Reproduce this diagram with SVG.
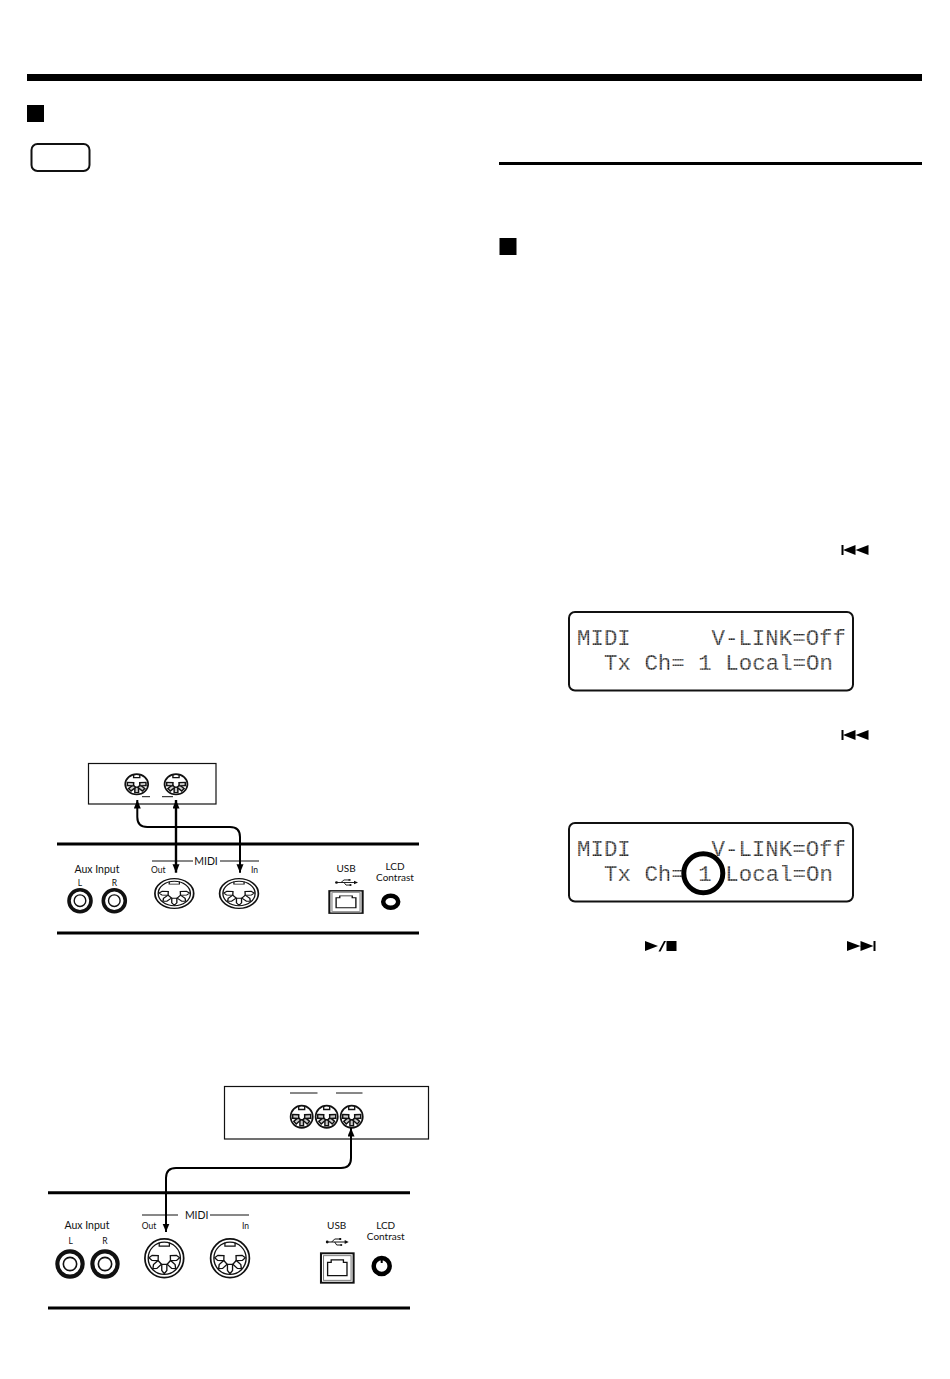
<svg xmlns="http://www.w3.org/2000/svg" width="950" height="1379" viewBox="0 0 950 1379">
<style>
.t{font-family:Lato,"Liberation Sans",sans-serif;fill:#111;font-size:10.5px}
.c{font-size:10px}
.s{font-size:8.5px}
.m{text-anchor:middle}
.e{text-anchor:end}
.lcd{font-family:"Liberation Mono",monospace;font-size:22.4px;fill:url(#dots);white-space:pre}
.scr{fill:#fff;stroke:#111;stroke-width:2}
.rule{stroke:#000;stroke-width:3;fill:none}
.thin{stroke:#111;stroke-width:1;fill:none}
.box{fill:#fff;stroke:#111;stroke-width:1.2}
.wire{fill:none;stroke:#000;stroke-width:2}
</style>
<defs>
<pattern id="dots" patternUnits="userSpaceOnUse" width="1.7" height="1.7"><rect width="1.4" height="1.4" fill="#111"/></pattern>
<marker id="arr" markerUnits="userSpaceOnUse" markerWidth="10" markerHeight="8" refX="8.5" refY="3.5" orient="auto-start-reverse"><path d="M0 0L8.500 3.500L0 7Z" fill="#000"/></marker>
<g id="din">
<circle r="19" fill="#fff" stroke="#111" stroke-width="1.7"/>
<circle r="15.8" fill="none" stroke="#111" stroke-width="1.300"/>
<path d="M-5 -15.500V-12H5V-15.500" fill="none" stroke="#111" stroke-width="1.200"/>
<g fill="#fff" stroke="#111" stroke-width="1.300">
<path d="M-2.500 6H2.500V12L0 15L-2.500 12Z"/>
<path d="M-2.500 6H2.500V12L0 15L-2.500 12Z" transform="rotate(48)"/>
<path d="M-2.500 6H2.500V12L0 15L-2.500 12Z" transform="rotate(-48)"/>
<path d="M-2.500 6H2.500V12L0 15L-2.500 12Z" transform="rotate(92)"/>
<path d="M-2.500 6H2.500V12L0 15L-2.500 12Z" transform="rotate(-92)"/>
</g>
</g>
<g id="dins">
<circle r="18.500" fill="#fff" stroke="#111" stroke-width="2.800"/>
<path d="M-5 -17V-12H5V-17" fill="none" stroke="#111" stroke-width="2.200"/>
<g fill="#ccc" stroke="#111" stroke-width="2.400">
<path d="M-3 5H3V15H-3Z"/>
<path d="M-3 5H3V15H-3Z" transform="rotate(48)"/>
<path d="M-3 5H3V15H-3Z" transform="rotate(-48)"/>
<path d="M-3 5H3V15H-3Z" transform="rotate(92)"/>
<path d="M-3 5H3V15H-3Z" transform="rotate(-92)"/>
</g>
</g>
<g id="jack">
<circle r="11" fill="#fff" stroke="#111" stroke-width="3.600"/>
<circle r="5.800" fill="#fff" stroke="#111" stroke-width="1.400"/>
</g>
<g id="usbp">
<rect x="-16" y="-15.500" width="32" height="31" fill="#fff" stroke="#111" stroke-width="2"/>
<rect x="-13.500" y="-13" width="27" height="26" fill="#fff" stroke="#777" stroke-width="1"/>
<path d="M-9.500 -6H-6V-8.500H6V-6H9.500V8H-9.500Z" fill="#fff" stroke="#111" stroke-width="1.300"/>
</g>
<g id="usbi">
<path d="M-9 0H9M-5 0L-2 -3H3M-2 0L0 3H4" fill="none" stroke="#111" stroke-width="1"/>
<path d="M8 -2L12 0L8 2Z" fill="#111"/>
<circle cx="-9.500" r="1.400" fill="#111"/>
<rect x="2.500" y="-4" width="2" height="2" fill="#111"/>
<circle cx="4.500" cy="3" r="1.100" fill="#111"/>
</g>
</defs>

<rect id="top-bar" x="27" y="74" width="895" height="7" fill="#000"/>
<rect id="bullet-1" x="27" y="105" width="17" height="17" fill="#000"/>
<rect id="note-box" x="31.500" y="144" width="58" height="27" rx="6" fill="#fff" stroke="#111" stroke-width="2"/>
<rect id="right-rule" x="499" y="162" width="423" height="3" fill="#000"/>
<rect id="bullet-2" x="499.500" y="238" width="17" height="17" fill="#000"/>

<g id="rew-1" fill="#000"><rect x="841.500" y="545" width="2" height="10"/><path d="M843 550L855.500 545V555Z M855.500 550L868.500 545V555Z"/></g>

<g id="lcd-1">
<rect class="scr" x="569" y="612" width="284" height="78.500" rx="6"/>
<text class="lcd" x="577" y="645" textLength="269" lengthAdjust="spacing" xml:space="preserve">MIDI      V-LINK=Off</text>
<text class="lcd" x="577" y="670" xml:space="preserve" textLength="256" lengthAdjust="spacing">  Tx Ch= 1 Local=On</text>
</g>

<g id="rew-2" fill="#000"><rect x="841.500" y="730" width="2" height="10"/><path d="M843 735L855.500 730V740Z M855.500 735L868.500 730V740Z"/></g>

<g id="lcd-2">
<rect class="scr" x="569" y="823" width="284" height="78.500" rx="6"/>
<text class="lcd" x="577" y="856" textLength="269" lengthAdjust="spacing" xml:space="preserve">MIDI      V-LINK=Off</text>
<text class="lcd" x="577" y="881" xml:space="preserve" textLength="256" lengthAdjust="spacing">  Tx Ch= 1 Local=On</text>
<circle cx="703.300" cy="873.300" r="19.500" fill="none" stroke="#000" stroke-width="5"/>
</g>

<g id="play-stop" fill="#000"><path d="M645 941L658 946L645 951Z"/><path d="M658.500 951.500L664 941H666L660.500 951.500Z"/><rect x="666.500" y="941" width="10" height="10"/></g>
<g id="ffw" fill="#000"><path d="M847 941L860.500 946L847 951Z M860.500 941L873.500 946L860.500 951Z"/><rect x="873.500" y="941" width="2" height="10"/></g>

<g id="device-1">
<rect class="box" x="88.500" y="763.500" width="127.500" height="40.500"/>
<use href="#dins" transform="translate(136.700 784.300) scale(.62 .55)"/>
<use href="#dins" transform="translate(176 784.300) scale(.62 .55)"/>
<path class="thin" d="M142 796.700H150M162 796.700H173"/>
</g>

<g id="panel-1">
<path class="rule" d="M57 844H419M57 933H419"/>
<path class="thin" d="M152 861H193M220 861H259"/>
<text class="t m" x="206" y="865">MIDI</text>
<text class="t s" x="151" y="873">Out</text>
<text class="t s e" x="258" y="873">In</text>
<text class="t m" x="97" y="873">Aux Input</text>
<text class="t s m" x="80" y="886">L</text>
<text class="t s m" x="114.300" y="886">R</text>
<use href="#jack" transform="translate(80 900.700) scale(1 1)"/>
<use href="#jack" transform="translate(114.300 900.700) scale(1 1)"/>
<use href="#din" transform="translate(174.300 893.500) scale(1.020 .78)"/>
<use href="#din" transform="translate(239 893.500) scale(1.020 .78)"/>
<text class="t c m" x="346" y="872">USB</text>
<use href="#usbi" transform="translate(346 882.500) scale(1 .85)"/>
<use href="#usbp" transform="translate(346 902) scale(1.040 .72)"/>
<text class="t c m" x="395" y="870">LCD</text>
<text class="t c m" x="395" y="880.500">Contrast</text>
<ellipse cx="390.700" cy="901.700" rx="7.500" ry="6" fill="#fff" stroke="#000" stroke-width="4.500"/>
</g>

<g id="device-2">
<rect class="box" x="224.500" y="1086.500" width="204" height="52.500"/>
<path class="thin" d="M290 1093H317.500M336 1093H362.500"/>
<use href="#dins" transform="translate(301.700 1116.700) scale(.6)"/>
<use href="#dins" transform="translate(326.700 1116.700) scale(.6)"/>
<use href="#dins" transform="translate(351.700 1116.700) scale(.6)"/>
</g>

<g id="panel-2">
<path class="rule" d="M48 1192.700H410M48 1308H410"/>
<path class="thin" d="M142 1215H178M210 1215H249"/>
<text class="t m" x="196.700" y="1219">MIDI</text>
<text class="t s" x="141.700" y="1229">Out</text>
<text class="t s e" x="249" y="1229">In</text>
<text class="t m" x="87" y="1229">Aux Input</text>
<text class="t s m" x="70.700" y="1244">L</text>
<text class="t s m" x="105" y="1244">R</text>
<use href="#jack" transform="translate(70 1264) scale(1.150)"/>
<use href="#jack" transform="translate(105 1264) scale(1.150)"/>
<use href="#din" transform="translate(164.300 1258.300) scale(1.020)"/>
<use href="#din" transform="translate(230 1258.300) scale(1.020)"/>
<text class="t c m" x="336.700" y="1229">USB</text>
<use href="#usbi" transform="translate(336.700 1242)"/>
<use href="#usbp" transform="translate(337.300 1268) scale(1.020 .95)"/>
<text class="t c m" x="385.700" y="1229">LCD</text>
<text class="t c m" x="385.700" y="1240">Contrast</text>
<circle cx="381.700" cy="1266" r="8" fill="#fff" stroke="#000" stroke-width="4.500"/>
<path d="M381.700 1258V1263" stroke="#000" stroke-width="2"/>
</g>

<g id="connectors">
<path class="wire" d="M137.300 800V817Q137.300 827 147.300 827H230Q240 827 240 837V872.700" marker-start="url(#arr)" marker-end="url(#arr)"/>
<path class="wire" style="stroke-width:2.400" d="M176 800V872.700" marker-start="url(#arr)" marker-end="url(#arr)"/>
<path class="wire" d="M351 1128V1158Q351 1168 341 1168H176Q166 1168 166 1178V1232" marker-start="url(#arr)" marker-end="url(#arr)"/>
</g>
</svg>
